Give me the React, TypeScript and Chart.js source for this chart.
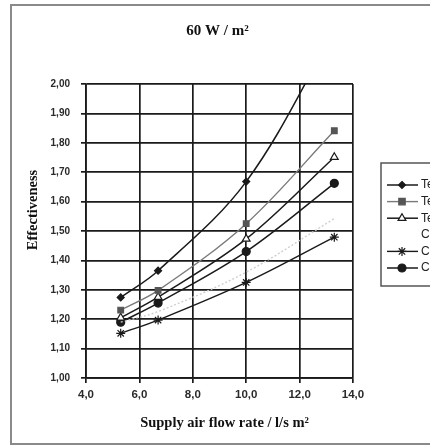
import React, { useEffect, useRef } from "react";
import { Chart, registerables } from "chart.js";

Chart.register(...registerables);

const flowRates = [5.3, 6.7, 10.0, 13.3];
const seriesLabels = ["Test 1", "Test 2", "Test 3", "Calc. 0", "Calc. 1", "Calc. 2"];
const seriesT1 = [1.274, 1.365, 1.668, 2.18];
const seriesT2 = [1.231, 1.298, 1.525, 1.841];
const seriesT3 = [1.205, 1.275, 1.473, 1.751];
const seriesC0 = [1.19, 1.226, 1.36, 1.542];
const seriesC1 = [1.152, 1.197, 1.325, 1.479];
const seriesC2 = [1.19, 1.255, 1.43, 1.662];
const titleText = "60 W / m²";
const xTitle = "Supply air flow rate / l/s m²";
const yTitle = "Effectiveness";

const styles = [
  { color: "#1a1a1a", point: "rectRot", fill: "#1a1a1a", r: 3.5, dash: [] as number[], w: 1.5 },
  { color: "#7a7a7a", point: "rect", fill: "#555", r: 4, dash: [], w: 1.4 },
  { color: "#1a1a1a", point: "triangle", fill: "#ffffff", r: 4.5, dash: [], w: 1.5 },
  { color: "#cfcfcf", point: "none", fill: "#cfcfcf", r: 0, dash: [2, 2], w: 1.4 },
  { color: "#1a1a1a", point: "star", fill: "#1a1a1a", r: 4.5, dash: [], w: 1.4 },
  { color: "#1a1a1a", point: "circle", fill: "#1a1a1a", r: 4, dash: [], w: 1.5 },
];

function drawMarker(ctx: CanvasRenderingContext2D, kind: string, x: number, y: number, r: number, stroke: string, fill: string) {
  ctx.save();
  ctx.setLineDash([]);
  ctx.strokeStyle = stroke;
  ctx.fillStyle = fill;
  ctx.lineWidth = 1.2;
  ctx.beginPath();
  if (kind === "rectRot") {
    ctx.moveTo(x, y - r); ctx.lineTo(x + r, y); ctx.lineTo(x, y + r); ctx.lineTo(x - r, y); ctx.closePath();
    ctx.fill(); ctx.stroke();
  } else if (kind === "rect") {
    ctx.rect(x - r * 0.8, y - r * 0.8, r * 1.6, r * 1.6); ctx.fill(); ctx.stroke();
  } else if (kind === "triangle") {
    ctx.moveTo(x, y - r); ctx.lineTo(x + r * 0.87, y + r * 0.5); ctx.lineTo(x - r * 0.87, y + r * 0.5); ctx.closePath();
    ctx.fill(); ctx.stroke();
  } else if (kind === "star") {
    for (let i = 0; i < 4; i++) {
      const a = (i * Math.PI) / 4;
      ctx.moveTo(x + Math.cos(a) * r, y + Math.sin(a) * r);
      ctx.lineTo(x - Math.cos(a) * r, y - Math.sin(a) * r);
    }
    ctx.stroke();
  } else if (kind === "circle") {
    ctx.arc(x, y, r, 0, Math.PI * 2); ctx.fill(); ctx.stroke();
  }
  ctx.restore();
}

const textPlugin = {
  id: "customTexts",
  afterDraw(chart: any) {
    const ctx: CanvasRenderingContext2D = chart.ctx;
    const area = chart.chartArea;
    ctx.save();
    ctx.fillStyle = "#111";
    ctx.textAlign = "center";
    ctx.textBaseline = "middle";
    ctx.font = "bold 15px 'Liberation Serif', 'Times New Roman', serif";
    ctx.fillText(titleText, (area.left + area.right) / 2 - 2, 25);
    ctx.font = "bold 14.5px 'Liberation Serif', 'Times New Roman', serif";
    ctx.fillText(xTitle, (area.left + area.right) / 2 + 5, 417);
    ctx.save();
    ctx.translate(21, 204);
    ctx.rotate(-Math.PI / 2);
    ctx.fillText(yTitle, 0, 0);
    ctx.restore();

    // legend
    const boxL = 369, boxT = 157, boxB = 280;
    ctx.strokeStyle = "#555";
    ctx.lineWidth = 1.5;
    ctx.strokeRect(boxL, boxT, 200, boxB - boxT);
    const ds = chart.data.datasets;
    ds.forEach((d: any, i: number) => {
      const st = styles[i];
      const y = 179 + i * 16.6;
      ctx.save();
      ctx.strokeStyle = st.color;
      ctx.lineWidth = st.w;
      ctx.setLineDash(st.dash);
      if (st.point !== "none") {
        ctx.beginPath();
        ctx.moveTo(375, y);
        ctx.lineTo(406, y);
        ctx.stroke();
      }
      ctx.restore();
      if (st.point !== "none") drawMarker(ctx, st.point, 390, y, st.r, st.point === "rect" ? "#555" : "#1a1a1a", st.fill);
      ctx.fillStyle = "#222";
      ctx.textAlign = "left";
      ctx.font = "12px 'Liberation Sans', Arial, sans-serif";
      ctx.fillText(d.label, 409, y);
    });
    ctx.restore();
  },
};

export default function App() {
  const ref = useRef<HTMLCanvasElement>(null);
  useEffect(() => {
    if (!ref.current) return;
    const all = [seriesT1, seriesT2, seriesT3, seriesC0, seriesC1, seriesC2];
    const datasets = all.map((vals, i) => {
      const st = styles[i];
      return {
        label: seriesLabels[i],
        data: vals.map((v, j) => ({ x: flowRates[j], y: v })),
        borderColor: st.color,
        borderWidth: st.w,
        borderDash: st.dash,
        backgroundColor: st.fill,
        pointStyle: st.point === "none" ? false : (st.point as any),
        pointRadius: st.r,
        pointBorderColor: st.point === "rect" ? "#555" : "#1a1a1a",
        pointBackgroundColor: st.fill,
        pointBorderWidth: 1.2,
        tension: 0.35,
        fill: false,
      };
    });
    const chart = new Chart(ref.current, {
      type: "line",
      data: { datasets },
      options: {
        animation: false,
        responsive: false,
        maintainAspectRatio: false,
        layout: { padding: { left: 0, top: 78, right: 129, bottom: 0 } },
        plugins: { legend: { display: false }, title: { display: false }, tooltip: { enabled: false } },
        scales: {
          x: {
            type: "linear",
            min: 4,
            max: 14,
            afterFit: (s: any) => { s.height = 64; },
            ticks: {
              stepSize: 2,
              padding: 5,
              color: "#2a2a2a",
              font: { family: "'Liberation Sans', Arial, sans-serif", size: 11.5, weight: "bold" },
              callback: (v: any) => Number(v).toFixed(1).replace(".", ","),
            },
            grid: { color: "#1a1a1a", lineWidth: 1.7, tickLength: 5, tickColor: "#1a1a1a" },
            border: { color: "#1a1a1a", width: 1.7 },
          },
          y: {
            min: 1,
            max: 2,
            afterFit: (s: any) => { s.width = 74; },
            ticks: {
              stepSize: 0.1,
              padding: 11,
              color: "#2a2a2a",
              font: { family: "'Liberation Sans', Arial, sans-serif", size: 10, weight: "bold" },
              callback: (v: any) => Number(v).toFixed(2).replace(".", ","),
            },
            grid: { color: "#1a1a1a", lineWidth: 1.7, tickLength: 5, tickColor: "#1a1a1a" },
            border: { color: "#1a1a1a", width: 1.7 },
          },
        },
      },
      plugins: [textPlugin],
    });
    return () => chart.destroy();
  }, []);

  return (
    <div style={{ position: "fixed", left: 0, top: 0, width: 430, height: 445, overflow: "hidden", background: "#fff" }}>
      <div
        style={{
          position: "absolute",
          left: 10,
          top: 4,
          width: 484,
          height: 441,
          boxSizing: "border-box",
          border: "2px solid #8a8a8a",
        }}
      >
        <canvas ref={ref} width={470} height={436} style={{ position: "absolute", left: 0, top: 0, width: 470, height: 436 }} />
      </div>
    </div>
  );
}
